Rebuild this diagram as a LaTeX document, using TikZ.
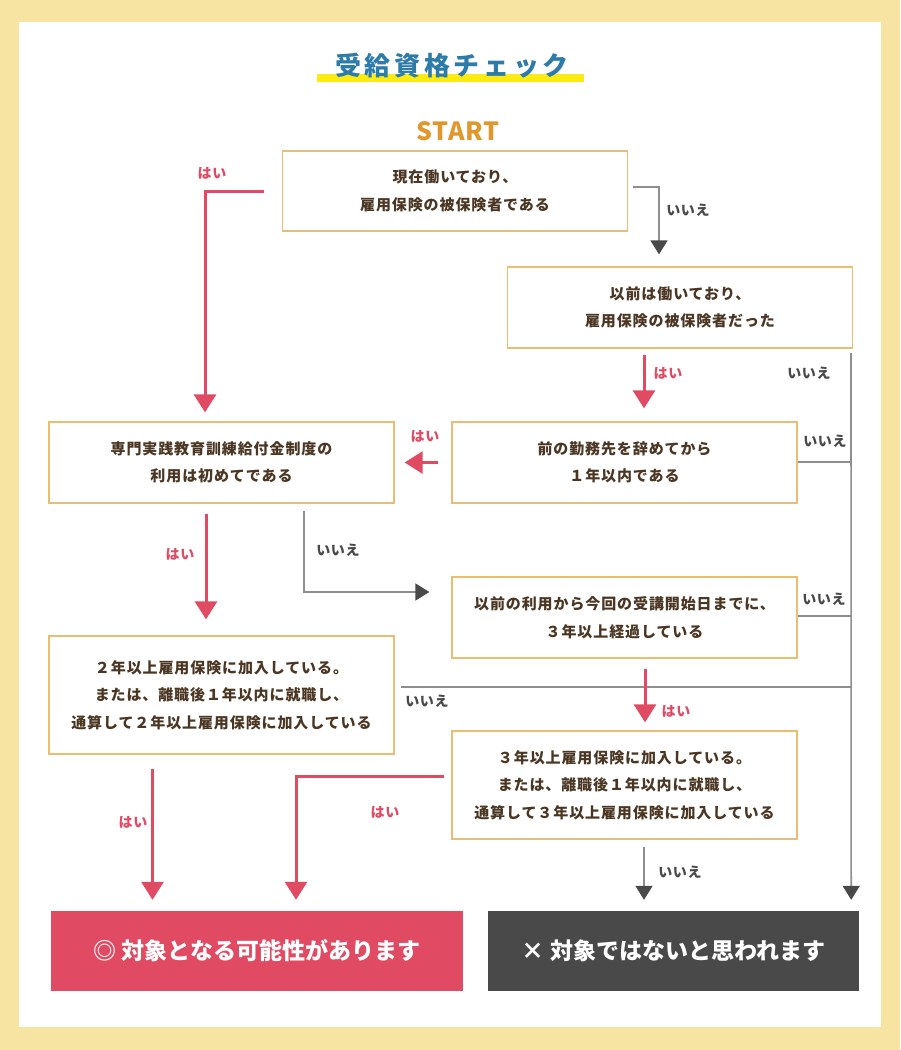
\documentclass[tikz,border=0pt]{standalone}
\usepackage{fontspec}
\setmainfont{Noto Sans CJK JP}
\usetikzlibrary{arrows.meta,calc}
\definecolor{bgyellow}{HTML}{F7E4A2}
\definecolor{boxline}{HTML}{E9BE72}
\definecolor{txtbrown}{HTML}{4A3622}
\definecolor{redc}{HTML}{E04A62}
\definecolor{darkc}{HTML}{494949}
\definecolor{linegray}{HTML}{8E8E8E}
\definecolor{titleblue}{HTML}{2D7BA9}
\definecolor{titleyellow}{HTML}{FCEB12}
\definecolor{startorange}{HTML}{E0982E}
\tikzset{
  qbox/.style={draw=boxline, line width=1.3pt, fill=white, minimum width=345pt, align=center,
    font=\fontsize{15}{27.5}\selectfont\bfseries\addfontfeatures{LetterSpace=6}, text=txtbrown, inner sep=0pt},
  resbox/.style={minimum height=80pt, font=\fontsize{23}{26}\selectfont\bfseries, text=white, inner sep=0pt},
  yesarr/.style={draw=redc, line width=3pt, -{Triangle[length=18pt,width=22pt,color=redc,fill=redc]}},
  noarr/.style={draw=linegray, line width=1.6pt, -{Triangle[length=14pt,width=17pt,color=darkc,fill=darkc]}},
  noline/.style={draw=linegray, line width=1.6pt},
  yeslbl/.style={font=\fontsize{14}{16}\selectfont\bfseries\addfontfeatures{LetterSpace=4}, text=redc},
  nolbl/.style={font=\fontsize{14}{16}\selectfont\bfseries\addfontfeatures{LetterSpace=4}, text=darkc},
}
\begin{document}
\begin{tikzpicture}[x=1pt,y=-1pt]
\useasboundingbox (0,0) rectangle (900,1050);
\fill[bgyellow] (0,0) rectangle (900,1050);
\fill[white] (19,22) rectangle (881,1027);

% title
\fill[titleyellow] (317,74) rectangle (584,82);
\node[font=\fontsize{26}{28}\selectfont\bfseries\addfontfeatures{LetterSpace=14}, text=titleblue] (title) at (452,66) {受給資格チェック};
\node[font=\fontsize{25}{28}\selectfont\bfseries\addfontfeatures{LetterSpace=3}, text=startorange] (start) at (458,131) {START};

% question boxes
\node[qbox, minimum height=80pt] (b1) at (455,191) {現在働いており、\\雇用保険の被保険者である};
\node[qbox, minimum height=81pt] (b2) at (680,307.5) {以前は働いており、\\雇用保険の被保険者だった};
\node[qbox, minimum height=81pt] (b3) at (221.5,462.5) {専門実践教育訓練給付金制度の\\利用は初めてである};
\node[qbox, minimum height=81pt] (b4) at (624.5,462.5) {前の勤務先を辞めてから\\１年以内である};
\node[qbox, minimum height=81pt] (b5) at (624.5,617.5) {以前の利用から今回の受講開始日までに、\\３年以上経過している};
\node[qbox, minimum height=118pt] (b6) at (221.5,695) {２年以上雇用保険に加入している。\\または、離職後１年以内に就職し、\\通算して２年以上雇用保険に加入している};
\node[qbox, minimum height=108pt] (b7) at (624.5,785) {３年以上雇用保険に加入している。\\または、離職後１年以内に就職し、\\通算して３年以上雇用保険に加入している};

% result boxes
\node[resbox, fill=redc, minimum width=412pt] (r1) at (257,951) {◎ 対象となる可能性があります};
\node[resbox, fill=darkc, minimum width=371pt] (r2) at (673.5,951) {× 対象ではないと思われます};

% right-hand "no" rail
\coordinate (vtop) at (851,353);
\coordinate (j4) at (851,462);
\coordinate (j5) at (851,616);
\coordinate (j6) at (851,687);
\draw[noarr] (vtop) -- ([xshift=-8pt,yshift=11pt]r2.north east);
\draw[noline] ([yshift=0.5pt]b4.east) -- (j4);
\draw[noline] ([yshift=1.5pt]b5.east) -- (j5);
\draw[noline] ([xshift=6pt,yshift=8pt]b6.east) -- (j6);

% connectors
\draw[yesarr] ([xshift=-18pt]b1.west) -| ([xshift=-16.5pt,yshift=9pt]b3.north);
\draw[noarr] ([xshift=5pt,yshift=4pt]b1.east) -| ([xshift=-21pt,yshift=12pt]b2.north);
\draw[yesarr] ([xshift=-36pt,yshift=-6pt]b2.south) -- ([xshift=19.5pt,yshift=13pt]b4.north);
\draw[yesarr] ([xshift=-13pt]b4.west) -- ([xshift=10pt]b3.east);
\draw[yesarr] ([xshift=-15.5pt,yshift=-10pt]b3.south) -- ([xshift=-15.5pt,yshift=16pt]b6.north);
\draw[noarr] ([xshift=82.5pt,yshift=-7pt]b3.south) |- ([xshift=-22pt,yshift=25.5pt]b5.west);
\draw[yesarr] ([xshift=20.5pt,yshift=-10pt]b5.south) -- ([xshift=20.5pt,yshift=8pt]b7.north);
\draw[yesarr] ([xshift=-7pt,yshift=9pt]b7.west) -| ([xshift=39pt,yshift=11pt]r1.north);
\draw[yesarr] ([xshift=-69pt,yshift=-14pt]b6.south) -- ([xshift=-104.5pt,yshift=11pt]r1.north);
\draw[noarr] ([xshift=19.5pt,yshift=-7pt]b7.south) -- ([xshift=-29.5pt,yshift=11pt]r2.north);

% labels
\node[yeslbl] (l1) at (212,173) {はい};
\node[nolbl] (l2) at (688,210) {いいえ};
\node[yeslbl] (l3) at (668,373) {はい};
\node[nolbl] (l4) at (809,373) {いいえ};
\node[nolbl] (l5) at (825,441) {いいえ};
\node[yeslbl] (l6) at (425,436) {はい};
\node[yeslbl] (l7) at (180,554) {はい};
\node[nolbl] (l8) at (338,550) {いいえ};
\node[nolbl] (l9) at (824,599) {いいえ};
\node[yeslbl] (l10) at (676,711) {はい};
\node[nolbl] (l11) at (427,701) {いいえ};
\node[yeslbl] (l12) at (385,812) {はい};
\node[yeslbl] (l13) at (133,822) {はい};
\node[nolbl] (l14) at (680,872) {いいえ};
\end{tikzpicture}
\end{document}
